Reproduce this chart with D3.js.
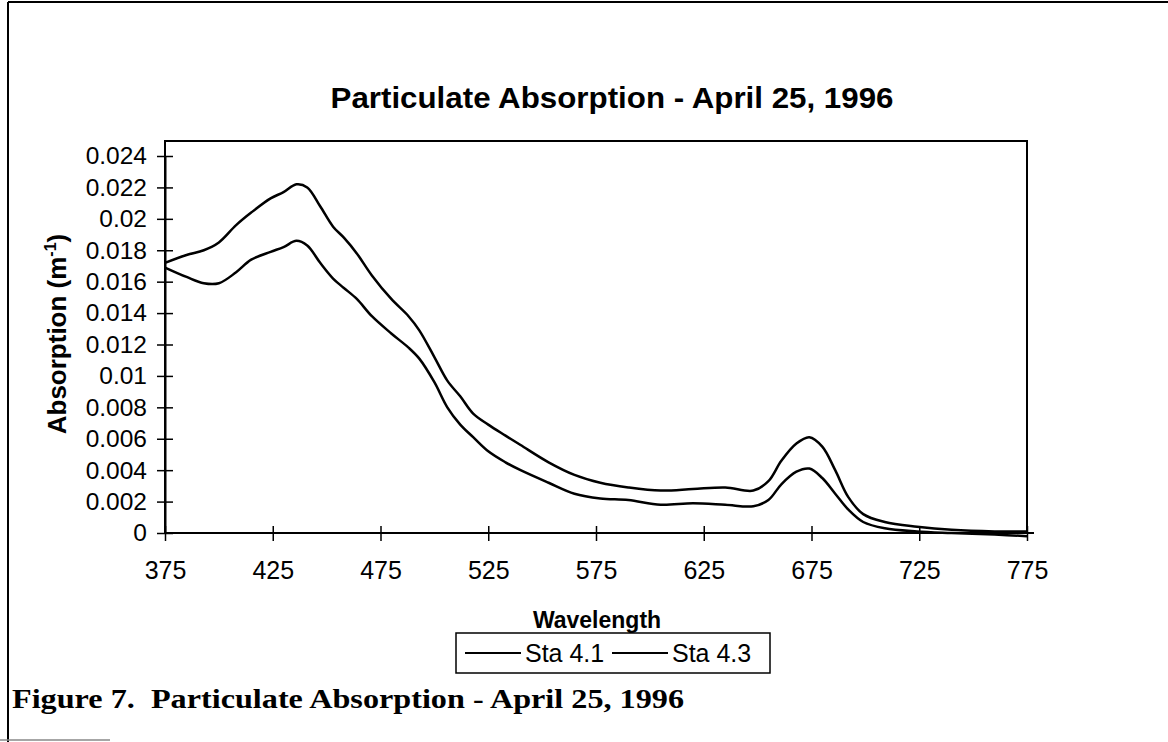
<!DOCTYPE html>
<html>
<head>
<meta charset="utf-8">
<script src="https://cdn.jsdelivr.net/npm/d3@7"></script>
<style>
  body { margin: 0; background: #fff; }
  svg { display: block; }
  text { fill: #000; }
</style>
</head>
<body>
<svg width="1168" height="742"></svg>
<script>
// values
var wavelengths = [375, 385, 393, 400, 408, 415, 424, 430, 436, 441, 447, 453, 458, 464, 471,
  480, 488, 493, 500, 506, 512, 518, 525, 533, 540, 553, 565, 577, 590, 605, 620, 635, 648,
  655, 661, 668, 674, 680, 686, 692, 699, 709, 724, 740, 760, 775];

var sta41 = [0.0172, 0.0177, 0.0180, 0.0185, 0.0196, 0.0204, 0.0213, 0.0217, 0.0222, 0.0220,
  0.0208, 0.0195, 0.0188, 0.0178, 0.0164, 0.0149, 0.0138, 0.0129, 0.0112, 0.0097, 0.0087,
  0.0076, 0.0069, 0.0062, 0.0056, 0.0045, 0.0037, 0.0032, 0.0029, 0.0027, 0.0028, 0.0029,
  0.0027, 0.0033, 0.0046, 0.0057, 0.0061, 0.0055, 0.0040, 0.0023, 0.0012, 0.0007, 0.0004,
  0.0002, 0.0001, 0.0001];

var sta43 = [0.0169, 0.0163, 0.0159, 0.0159, 0.0166, 0.0174, 0.0179, 0.0182, 0.0186, 0.0183,
  0.0172, 0.0162, 0.0156, 0.0149, 0.0138, 0.0127, 0.0118, 0.0111, 0.0096, 0.0080, 0.0069,
  0.0061, 0.0052, 0.0045, 0.0040, 0.0032, 0.0025, 0.0022, 0.0021, 0.0018, 0.0019, 0.0018,
  0.0017, 0.0021, 0.0031, 0.0039, 0.0041, 0.0035, 0.0025, 0.0015, 0.0007, 0.0003, 0.0001,
  0.0000, -0.0001, -0.0002];

var seriesNames = ["Sta 4.1", "Sta 4.3"];
var xTicks = [375, 425, 475, 525, 575, 625, 675, 725, 775];
var yTicks = [0, 0.002, 0.004, 0.006, 0.008, 0.01, 0.012, 0.014, 0.016, 0.018, 0.02, 0.022, 0.024];

var chartTitle = "Particulate Absorption - April 25, 1996";
var caption = "Figure 7.  Particulate Absorption - April 25, 1996";

var svg = d3.select("svg");
var sans = "'Liberation Sans', Arial, sans-serif";

// page frame from the scan
svg.append("line").attr("x1", 8).attr("x2", 1168).attr("y1", 2).attr("y2", 2)
  .attr("stroke", "#000").attr("stroke-width", 2);
svg.append("line").attr("x1", 8).attr("x2", 8).attr("y1", 2).attr("y2", 742)
  .attr("stroke", "#000").attr("stroke-width", 2);
svg.append("line").attr("x1", 0).attr("x2", 110).attr("y1", 740).attr("y2", 740)
  .attr("stroke", "#888").attr("stroke-width", 1.5);

var x = d3.scaleLinear().domain([375, 775]).range([165, 1027]);
var y = d3.scaleLinear().domain([0, 0.024]).range([533, 156]);

// plot area box
svg.append("rect")
  .attr("x", 165).attr("y", 141)
  .attr("width", 1027 - 165).attr("height", 533 - 141)
  .attr("fill", "none").attr("stroke", "#000").attr("stroke-width", 2);

var xAxis = svg.append("g")
  .attr("transform", "translate(0,533)")
  .call(d3.axisBottom(x).tickValues(xTicks).tickSize(0).tickPadding(28).tickFormat(d3.format("d")));
xAxis.select(".domain").attr("stroke-width", 2).attr("d", "M165,0H1034");
xAxis.selectAll(".tick line").attr("y1", -7).attr("y2", 8).attr("stroke-width", 1.5);
xAxis.selectAll(".tick text").attr("font-family", sans).attr("font-size", 25);

var yAxis = svg.append("g")
  .attr("transform", "translate(165,0)")
  .call(d3.axisLeft(y).tickValues(yTicks).tickSize(0).tickPadding(18)
    .tickFormat(function(d) { return String(+d.toFixed(3)); }));
yAxis.select(".domain").attr("stroke-width", 2);
yAxis.selectAll(".tick line").attr("x1", -8).attr("x2", 8).attr("stroke-width", 1.5);
yAxis.selectAll(".tick text").attr("font-family", sans).attr("font-size", 24.5);

var line = d3.line()
  .curve(d3.curveCatmullRom.alpha(0.5))
  .x(function(d) { return x(d[0]); })
  .y(function(d) { return y(d[1]); });

[sta41, sta43].forEach(function(vals) {
  svg.append("path")
    .datum(wavelengths.map(function(w, i) { return [w, vals[i]]; }))
    .attr("fill", "none")
    .attr("stroke", "#000")
    .attr("stroke-width", 2.5)
    .attr("d", line);
});

// titles
svg.append("text")
  .attr("x", 612).attr("y", 108)
  .attr("text-anchor", "middle")
  .attr("font-family", sans).attr("font-weight", "bold").attr("font-size", 29)
  .attr("textLength", 563).attr("lengthAdjust", "spacingAndGlyphs")
  .text(chartTitle);

svg.append("text")
  .attr("x", 597).attr("y", 628)
  .attr("text-anchor", "middle")
  .attr("font-family", sans).attr("font-weight", "bold").attr("font-size", 23)
  .text("Wavelength");

var yl = svg.append("text")
  .attr("transform", "translate(66,334) rotate(-90)")
  .attr("text-anchor", "middle")
  .attr("font-family", sans).attr("font-weight", "bold").attr("font-size", 26);
yl.append("tspan").text("Absorption (m");
yl.append("tspan").attr("font-size", 16).attr("dy", -10).text("-1");
yl.append("tspan").attr("dy", 10).text(")");

// legend
var legend = svg.append("g");
legend.append("rect")
  .attr("x", 456).attr("y", 633).attr("width", 314).attr("height", 40)
  .attr("fill", "#fff").attr("stroke", "#000").attr("stroke-width", 1.5);
var legendX = [465, 612];
seriesNames.forEach(function(name, i) {
  legend.append("line")
    .attr("x1", legendX[i]).attr("x2", legendX[i] + 56)
    .attr("y1", 653).attr("y2", 653)
    .attr("stroke", "#000").attr("stroke-width", 2);
  legend.append("text")
    .attr("x", legendX[i] + 60).attr("y", 662)
    .attr("font-family", sans).attr("font-size", 25)
    .text(name);
});

// figure caption
svg.append("text")
  .attr("x", 12).attr("y", 708)
  .attr("font-family", "'Liberation Serif', 'Times New Roman', serif")
  .attr("font-weight", "bold").attr("font-size", 27)
  .attr("textLength", 672).attr("lengthAdjust", "spacingAndGlyphs")
  .attr("xml:space", "preserve")
  .style("white-space", "pre")
  .text(caption);
</script>
</body>
</html>
